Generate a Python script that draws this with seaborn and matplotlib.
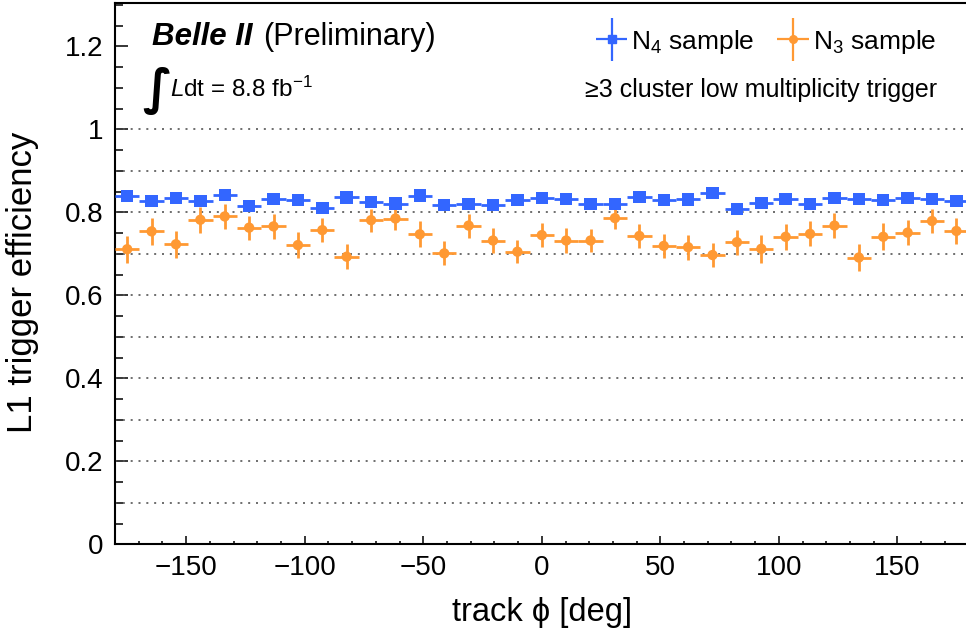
import numpy as np
import pandas as pd
import seaborn as sns
import matplotlib.pyplot as plt
from matplotlib import font_manager
from matplotlib.container import ErrorbarContainer
from matplotlib.legend_handler import HandlerErrorbar
from matplotlib.ticker import MultipleLocator, FormatStrFormatter

# 35 equal bins in track phi from -180 to 180 deg
bin_edges = np.linspace(-180, 180, 36)
phi = 0.5 * (bin_edges[:-1] + bin_edges[1:])
half_width = 0.5 * (bin_edges[1] - bin_edges[0])

eff_n4 = [0.839, 0.827, 0.835, 0.827, 0.842, 0.815, 0.832, 0.829, 0.811, 0.836,
          0.825, 0.821, 0.840, 0.817, 0.820, 0.817, 0.829, 0.834, 0.832, 0.820,
          0.820, 0.837, 0.829, 0.831, 0.847, 0.808, 0.823, 0.832, 0.820, 0.835,
          0.832, 0.829, 0.835, 0.832, 0.827]
err_n4 = [0.012] * 35

eff_n3 = [0.711, 0.754, 0.723, 0.782, 0.790, 0.763, 0.766, 0.721, 0.757, 0.693,
          0.781, 0.785, 0.747, 0.701, 0.768, 0.732, 0.705, 0.745, 0.732, 0.732,
          0.786, 0.743, 0.719, 0.716, 0.697, 0.728, 0.712, 0.741, 0.748, 0.768,
          0.691, 0.741, 0.751, 0.779, 0.755]
err_n3 = [0.033, 0.032, 0.033, 0.031, 0.031, 0.029, 0.030, 0.031, 0.029, 0.030,
          0.028, 0.027, 0.031, 0.029, 0.029, 0.029, 0.028, 0.029, 0.030, 0.027,
          0.027, 0.028, 0.028, 0.030, 0.028, 0.030, 0.033, 0.031, 0.030, 0.031,
          0.033, 0.032, 0.031, 0.029, 0.032]

blue = '#3366ff'
orange = '#ff9933'

sns.set_theme(style='ticks')
plt.rcParams['font.family'] = ['Liberation Sans', 'DejaVu Sans']
plt.rcParams['text.color'] = 'black'
plt.rcParams['axes.labelcolor'] = 'black'
plt.rcParams['mathtext.fontset'] = 'custom'
plt.rcParams['mathtext.rm'] = 'Liberation Sans'
plt.rcParams['mathtext.it'] = 'Liberation Sans:italic'
plt.rcParams['mathtext.bf'] = 'Liberation Sans:bold'

names = {f.name for f in font_manager.fontManager.ttflist}
tick_font = 'Liberation Sans Narrow' if 'Liberation Sans Narrow' in names else 'Liberation Sans'

df = pd.DataFrame({
    'phi': np.concatenate([phi, phi]),
    'eff': eff_n4 + eff_n3,
    'sample': ['N4'] * 35 + ['N3'] * 35,
})

fig = plt.figure(figsize=(9.66, 6.37), dpi=100)
ax = fig.add_axes([115 / 966, 1 - 544.3 / 637, 853.6 / 966, 541.6 / 637])

# dotted grid lines at every 0.1
for v in np.arange(0.1, 1.01, 0.1):
    ax.axhline(v, color='#555555', lw=1.2, ls=(0, (1.2, 3.5)), zorder=1)

ax.errorbar(phi, eff_n4, xerr=half_width, yerr=err_n4, fmt='none',
            ecolor=blue, elinewidth=2, capsize=0, zorder=3)
ax.errorbar(phi, eff_n3, xerr=half_width, yerr=err_n3, fmt='none',
            ecolor=orange, elinewidth=2, capsize=0, zorder=3)
sns.scatterplot(data=df, x='phi', y='eff', hue='sample', style='sample', size='sample',
                palette={'N4': blue, 'N3': orange}, markers={'N4': 's', 'N3': 'o'},
                sizes={'N4': 80, 'N3': 55}, linewidth=0, legend=False, ax=ax, zorder=4)

ax.set_xlim(-180, 180)
ax.set_ylim(0, 1.305)
ax.xaxis.set_major_locator(MultipleLocator(50))
ax.xaxis.set_minor_locator(MultipleLocator(10))
ax.yaxis.set_major_locator(MultipleLocator(0.2))
ax.yaxis.set_minor_locator(MultipleLocator(0.05))
ax.yaxis.set_major_formatter(FormatStrFormatter('%g'))

for s in ax.spines.values():
    s.set_linewidth(1.5)
    s.set_color('black')
ax.spines['right'].set_visible(False)
ax.tick_params(axis='both', which='both', direction='in', color='black', width=1.1,
               labelsize=20, labelcolor='black', labelfontfamily=tick_font)
ax.tick_params(axis='x', which='major', length=5.5, pad=8)
ax.tick_params(axis='x', which='minor', length=2.5)
ax.tick_params(axis='y', which='major', length=9, pad=8.5)
ax.tick_params(axis='y', which='minor', length=5.5)

ax.set_xlabel('track \u03d5 [deg]', fontsize=23.5, color='black')
ax.xaxis.label.set_va('center')
ax.xaxis.set_label_coords(0.5, -0.125)
ax.set_ylabel('L1 trigger efficiency', fontsize=25, color='black')
ax.yaxis.label.set_va('center')
ax.yaxis.set_label_coords(-0.108, 0.484)

# legend with error-bar style entries
h4 = ax.errorbar([np.nan], [np.nan], xerr=[1], yerr=[1], fmt='s', color=blue,
                 ms=5.5, elinewidth=1.6, capsize=0)
h3 = ax.errorbar([np.nan], [np.nan], xerr=[1], yerr=[1], fmt='o', color=orange,
                 ms=5.5, elinewidth=1.6, capsize=0)
ax.legend([h4, h3], ['N$_4$ sample', 'N$_3$ sample'], ncol=2, loc='center left',
          bbox_to_anchor=(595.7 / 966, 1 - 41.7 / 637), bbox_transform=fig.transFigure,
          frameon=False, fontsize=19, handlelength=1.2, handletextpad=0.15,
          columnspacing=0.85, borderpad=0, borderaxespad=0, labelcolor='black',
          handler_map={ErrorbarContainer: HandlerErrorbar(xerr_size=0.6, yerr_size=0.8)})

fig.text(585 / 966, 1 - 90 / 637, '\u22653 cluster low multiplicity trigger',
         fontsize=18, va='center', ha='left')

fig.text(152 / 966, 1 - 45 / 637, 'Belle II', fontsize=22.5, fontweight='bold',
         style='italic', va='baseline')
fig.text(263 / 966, 1 - 45 / 637, '(Preliminary)', fontsize=22, va='baseline')
fig.text(142 / 966, 1 - 91 / 637, '\u222b', fontsize=35, family='DejaVu Sans',
         fontweight='bold', va='center', ha='left')
fig.text(170 / 966, 1 - 97 / 637, r'$\mathit{L}$dt = 8.8 fb$^{-1}$', fontsize=17.5,
         va='baseline')

fig.savefig('out.png', dpi=100)
